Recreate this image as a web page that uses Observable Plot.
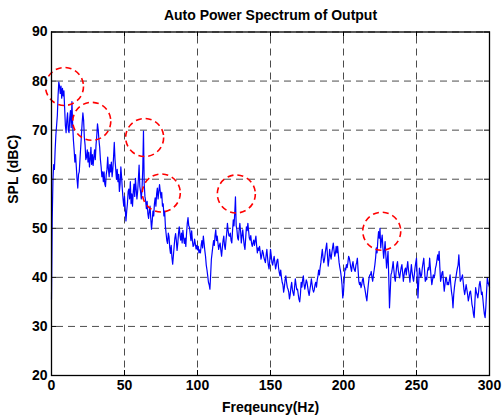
<!DOCTYPE html>
<html>
<head>
<meta charset="utf-8">
<script src="https://cdn.jsdelivr.net/npm/d3@7"></script>
<script src="https://cdn.jsdelivr.net/npm/@observablehq/plot@0.6"></script>
<style>
  html, body { margin: 0; padding: 0; background: #fff; }
</style>
</head>
<body>
<div id="chart"></div>
<script>
const titleText = "Auto Power Spectrum of Output";
const xLabel = "Freqeuncy(Hz)";
const yLabel = "SPL (dBC)";
const xTicks = [0, 50, 100, 150, 200, 250, 300];
const yTicks = [20, 30, 40, 50, 60, 70, 80, 90];

// highlighted peaks (red dashed circles)
const circleHz = [8.9, 27.6, 63.8, 75.2, 126.6, 226.2];
const circleDb = [78.9, 71.8, 68.5, 57.2, 57.0, 49.4];

// spectrum, 0.5 Hz bins from 0 to 300 Hz
const stepHz = 0.5;
const spl = [
  35.5, 52, 60, 63, 62, 66, 69, 71, 73, 77,
  79.8, 79, 77.5, 79, 76.5, 78.5, 77, 78, 74.5, 71,
  69.5, 72, 73.5, 70, 69.5, 72.5, 74, 70.5, 75.8, 71,
  68, 66, 63.5, 65, 62.5, 60, 58.2, 61, 61.5, 64,
  66.5, 69, 71.5, 73.5, 72, 68.5, 67, 64, 64.5, 66,
  63.5, 65.5, 62.5, 64, 66.5, 63, 65, 62.8, 64.5, 66,
  64, 67, 68.8, 71.3, 70, 68, 66.5, 64, 62.5, 60.5,
  61.5, 59.5, 61.5, 59, 58.5, 61, 62, 64.5, 62, 60.5,
  63, 61.5, 63.5, 60.5, 62, 64.5, 67.5, 64, 62, 60,
  62, 59.5, 61, 57.5, 59, 62.5, 60.5, 58, 56, 54.5,
  56.5, 54, 51.5, 53.5, 55, 57.5, 58, 56, 59.5, 55,
  57, 54.5, 57.5, 59, 56.5, 60.2, 58, 56, 57.5, 60,
  62.9, 58.5, 57.5, 56, 58, 62, 69.8, 59, 56.5, 55.5,
  54, 55.5, 53, 52, 53.5, 54.5, 52, 49.8, 51.5, 53.5,
  52.5, 55, 56.2, 54.5, 57, 58.2, 56, 57.5, 58.9, 57.5,
  56.2, 57.3, 54.5, 55, 52.5, 53.5, 50.5, 48.9, 47.5, 46.9,
  49, 48.3, 46, 44.9, 46.5, 44, 42.7, 44.5, 46.3, 48,
  48.9, 47.5, 45.5, 46.9, 49, 50.3, 48.5, 47.6, 49, 47,
  49.6, 48, 46.9, 48, 46.3, 49, 51, 52.2, 50.5, 50.2,
  48.9, 47.5, 49.5, 47.5, 46.3, 46.5, 47.8, 46.9, 45.8, 46.5,
  45.6, 46.3, 45, 45.6, 45, 46.5, 47.5, 46, 48.4, 47,
  45.5, 44.3, 42.5, 41.5, 40.3, 39, 38.5, 37.6, 40.5, 43.7,
  45, 46.3, 47.5, 46.5, 48.5, 49.7, 47.5, 48.4, 47, 45.7,
  46.5, 47, 45.5, 44.3, 46, 47.5, 48.4, 46.5, 45.7, 47.5,
  49, 51, 49.5, 48.5, 48.4, 49, 47.5, 47, 49.5, 51.7,
  50.5, 53, 56.4, 50.5, 49.7, 48, 47.6, 49.5, 51, 49.5,
  47, 48.5, 49.7, 48, 46.5, 45.7, 48, 50.3, 49.5, 51,
  49.5, 48, 47.6, 48.5, 47, 46.3, 47, 47.6, 46.5, 47.5,
  48.4, 46.5, 45, 46, 45.5, 46.3, 45, 43.7, 44.5, 45.5,
  45, 44, 43.5, 43, 44.5, 45.7, 44, 42.5, 41.7, 43.5,
  45.7, 44.5, 43, 42.5, 43.5, 44.3, 43, 41.7, 42.5, 43.5,
  43.7, 42, 41, 40.3, 41.5, 40, 39, 38.5, 37, 38,
  39.5, 40.3, 39, 38, 37.6, 37, 35.6, 36.5, 38, 39,
  37.5, 36.8, 36.3, 38, 39.7, 38.5, 37.5, 37.6, 36.5, 35.5,
  35, 36.5, 39, 38, 39.5, 40.3, 38.5, 37.6, 38.5, 39.5,
  39, 38, 37, 36.3, 37.5, 38.5, 39.7, 38.5, 37.5, 37,
  37.5, 38.5, 39, 38, 39.5, 40.3, 41.5, 40.5, 42, 43,
  44.5, 45.7, 44, 43, 43.7, 45, 46, 47, 44.5, 42.3,
  43.5, 45.7, 44.5, 43.7, 45, 46, 47, 45.5, 44.3, 45,
  46.3, 45, 46.3, 44.5, 43, 42, 41.2, 40, 38.5, 35.8,
  37, 39.5, 41.9, 41.5, 42.6, 42, 43, 44.3, 43.9, 43,
  42, 41.2, 42.5, 43.2, 42, 41.5, 41.2, 42.5, 43, 43.9,
  41.5, 39.2, 38.5, 39, 37.9, 38.5, 39.5, 39.9, 38.5, 37.9,
  37, 36, 35.2, 37, 38.5, 39.9, 40.5, 40.5, 41.2, 40,
  39.2, 40.5, 41.5, 42.6, 44, 46, 45, 47.5, 49.3, 48,
  50, 46, 47.5, 48.6, 46, 43.9, 45.5, 47.3, 44.5, 41.9,
  43.5, 45.3, 40, 33.8, 37, 40.5, 41, 42, 43.2, 41.5,
  40, 39.2, 41, 42.5, 43.2, 41.5, 40.5, 39.9, 41, 42,
  42.6, 41, 39.2, 40.5, 41.5, 41.9, 40.5, 42, 43.2, 41.5,
  40.5, 39, 41, 42.6, 41, 40, 39.2, 40.5, 42, 43,
  43.9, 40, 35.8, 39, 41.9, 41, 40, 40.5, 42, 43,
  43.9, 41.5, 39.2, 40, 39.5, 41.2, 42, 41.5, 43.9, 42,
  40, 38.5, 39.5, 40.5, 39.9, 40.5, 41.9, 42.5, 43.5, 44.6,
  43.5, 45.3, 42, 39.2, 40, 41, 41.2, 39, 37.2, 38.5,
  39.9, 39.9, 38.5, 39, 38.5, 39.5, 40.5, 38.5, 37, 36,
  33.8, 36.5, 38, 39.2, 40, 41, 41.9, 42.5, 44.6, 42,
  39.2, 39.5, 40, 40.5, 39, 37.5, 36.5, 37.5, 38.5, 37.5,
  36.5, 35.2, 36, 37, 37.2, 36, 34.5, 33.8, 32.5, 31.8,
  35, 37.9, 37, 36.5, 35.8, 37, 38.5, 39.2, 38, 36.5,
  37, 35.5, 33.8, 32.5, 31.8, 34, 37, 39.9, 39, 38.5,
  38
];

const data = spl.map((v, i) => ({hz: i * stepHz, db: v}));
const circles = circleHz.map((h, i) => ({hz: h, db: circleDb[i]}));

const W = 502, H = 417;
const mL = 51, mR = 13, mT = 31.5, mB = 42;
const innerW = W - mL - mR, innerH = H - mT - mB;
const tickLen = 5;

const chart = Plot.plot({
  width: W,
  height: H,
  marginLeft: mL,
  marginRight: mR,
  marginTop: mT,
  marginBottom: mB,
  style: {
    fontFamily: "'Liberation Sans', Arial, Helvetica, sans-serif",
    fontSize: "14px",
    fontWeight: "bold",
    background: "#fff",
    color: "#000",
    overflow: "visible"
  },
  x: {domain: [0, 300], ticks: xTicks},
  y: {domain: [20, 90], ticks: yTicks},
  marks: [
    Plot.gridX(xTicks, {stroke: "#000", strokeOpacity: 0.7, strokeWidth: 1, strokeDasharray: "7,5", insetTop: tickLen, insetBottom: tickLen}),
    Plot.gridY(yTicks, {stroke: "#000", strokeOpacity: 0.7, strokeWidth: 1, strokeDasharray: "7,5", insetLeft: tickLen, insetRight: tickLen}),
    Plot.line(data, {x: "hz", y: "db", stroke: "#0000ff", strokeWidth: 1.2}),
    Plot.dot(circles, {x: "hz", y: "db", r: 19, fill: "none", stroke: "#ff0000", strokeWidth: 1.6, strokeDasharray: "6,4"}),
    // inward tick marks (MATLAB style)
    Plot.ruleX(xTicks, {stroke: "#000", insetTop: innerH - tickLen}),
    Plot.ruleX(xTicks, {stroke: "#000", insetBottom: innerH - tickLen}),
    Plot.ruleY(yTicks, {stroke: "#000", insetRight: innerW - tickLen}),
    Plot.ruleY(yTicks, {stroke: "#000", insetLeft: innerW - tickLen}),
    Plot.frame({stroke: "#000", strokeWidth: 1.3}),
    Plot.axisX(xTicks, {tickSize: 0, tickPadding: 5, label: null, fontSize: 14, fontWeight: "bold"}),
    Plot.axisY(yTicks, {tickSize: 0, tickPadding: 4, label: null, fontSize: 14, fontWeight: "bold"}),
    Plot.text([titleText], {frameAnchor: "top", dy: -16.5, lineAnchor: "middle", fontSize: 14, fontWeight: "bold"}),
    Plot.text([xLabel], {frameAnchor: "bottom", dy: 32, lineAnchor: "middle", fontSize: 14, fontWeight: "bold"}),
    Plot.text([yLabel], {frameAnchor: "left", dx: -38, rotate: -90, lineAnchor: "middle", fontSize: 14, fontWeight: "bold"})
  ]
});

document.getElementById("chart").appendChild(chart);
</script>
</body>
</html>
